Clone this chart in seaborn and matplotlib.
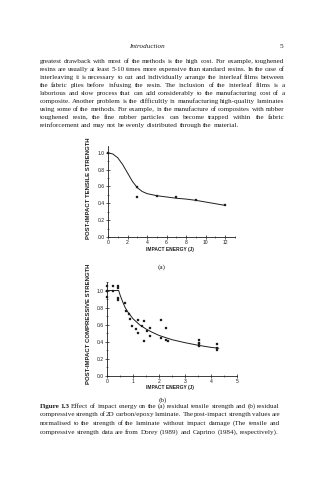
import math
import matplotlib
matplotlib.use("Agg")
import matplotlib.pyplot as plt
from matplotlib.ticker import MultipleLocator, FormatStrFormatter
from matplotlib.font_manager import fontManager, get_font, FontProperties
from matplotlib.backends import backend_agg
import seaborn as sns
import pandas as pd

# ---------------- data ----------------
# (a) residual tensile strength
tensile_energy = [0, 3, 3, 5, 7, 9, 12]
tensile_strength = [1.0, 0.595, 0.475, 0.49, 0.47, 0.44, 0.375]
tensile_fit_energy = [0, 0.5, 1.0, 1.5, 2.0, 2.5, 3.0, 3.5, 4.0, 5, 6, 7, 8, 9, 10, 11, 12]
tensile_fit_strength = [1.0, 0.985, 0.94, 0.86, 0.76, 0.66, 0.585, 0.54, 0.515,
                        0.49, 0.475, 0.46, 0.45, 0.435, 0.415, 0.395, 0.375]

# (b) residual compressive strength
comp_energy = [0, 0, 0, 0, 0.22, 0.22, 0.44, 0.44, 0.44, 0.44, 0.69, 0.72, 0.85, 0.87,
               0.97, 1.13, 1.2, 1.2, 1.33, 1.42, 1.42, 1.53, 1.66, 1.66, 2.08, 2.08,
               2.25, 2.25, 2.33, 3.54, 3.54, 3.54, 3.54, 4.24, 4.24, 4.24]
comp_strength = [0.93, 1.05, 1.0, 0.99, 0.99, 1.05, 1.05, 1.03, 0.91, 0.89, 0.86, 0.76,
                 0.73, 0.67, 0.58, 0.55, 0.65, 0.50, 0.58, 0.64, 0.41, 0.53, 0.56, 0.47,
                 0.65, 0.44, 0.56, 0.42, 0.41, 0.42, 0.39, 0.37, 0.35, 0.37, 0.33, 0.30]
comp_fit_energy = [0, 0.45, 0.5, 0.6, 0.7, 0.8, 0.9, 1.0, 1.25, 1.5, 1.75, 2.0, 2.5,
                   3.0, 3.5, 4.0, 4.3]
comp_fit_strength = [1.0, 1.0, 0.95, 0.87, 0.80, 0.75, 0.71, 0.67, 0.60, 0.55, 0.51,
                     0.475, 0.425, 0.39, 0.36, 0.335, 0.325]

x_label = "IMPACT ENERGY (J)"
y_label_a = "POST-IMPACT TENSILE STRENGTH"
y_label_b = "POST-IMPACT COMPRESSIVE STRENGTH"

header_title = "Introduction"
page_number = "5"

body_lines = [
    "greatest drawback with most of the methods is the high cost.  For example, toughened",
    "resins are usually at least 5-10 times more expensive than standard resins. In the case of",
    "interleaving it is necessary to cut and individually arrange the interleaf films between",
    "the fabric plies before infusing the resin.  The inclusion of the interleaf films is a",
    "laborious and slow process that can add considerably to the manufacturing cost of a",
    "composite.  Another problem is the difficultly in manufacturing high-quality laminates",
    "using some of the methods. For example, in the manufacture of composites with rubber",
    "toughened resin, the fine rubber particles can become trapped within the fabric",
    "reinforcement and may not be evenly distributed through the material.",
]
caption_lines = [
    "Figure 1.3 Effect of impact energy on the (a) residual tensile strength and (b) residual",
    "compressive strength of 2D carbon/epoxy laminate.  The post-impact strength values are",
    "normalised to the strength of the laminate without impact damage (The tensile and",
    "compressive strength data are from Dorey (1989) and Caprino (1984), respectively).",
]

# ---------------- figure ----------------
sns.set_style("ticks")
plt.rcParams["font.family"] = ["Liberation Sans", "DejaVu Sans"]
W, H = 331, 480
DPI = 100
fig = plt.figure(figsize=(W / DPI, H / DPI), dpi=DPI)
ink = "#1e1e1e"


def fx(px):
    return px / W


def fy(py):
    return 1 - py / H


def axes_box(left, right, top, bottom):
    return [fx(left), fy(bottom), (right - left) / W, (bottom - top) / H]


def style_axes(ax, xmaj, xmin, ylab, ylab_pos, xlab_pos):
    for s in ("top", "right"):
        ax.spines[s].set_visible(False)
    for s in ("left", "bottom"):
        ax.spines[s].set_linewidth(0.6)
        ax.spines[s].set_color(ink)
    ax.xaxis.set_major_locator(MultipleLocator(xmaj))
    ax.xaxis.set_minor_locator(MultipleLocator(xmin))
    ax.yaxis.set_major_locator(MultipleLocator(0.2))
    ax.yaxis.set_minor_locator(MultipleLocator(0.1))
    ax.tick_params(which="major", direction="inout", length=2.2, width=0.5,
                   labelsize=3.6, colors=ink, pad=1.0)
    ax.tick_params(which="minor", direction="inout", length=1.2, width=0.4, colors=ink)
    ax.yaxis.set_major_formatter(FormatStrFormatter("%.1f"))
    ax.set_xlabel(x_label, fontsize=3.5, fontweight="bold", color=ink)
    ax.set_ylabel(ylab, fontsize=4.3, fontweight="bold", color=ink)
    ax.xaxis.set_label_coords(fx(xlab_pos[0]), fy(xlab_pos[1]), transform=fig.transFigure)
    ax.yaxis.set_label_coords(fx(ylab_pos[0]), fy(ylab_pos[1]), transform=fig.transFigure)
    ax.xaxis.label.set_va("center")
    ax.yaxis.label.set_va("center")
    ax.set_facecolor("none")


# (a) tensile
ax_a = fig.add_axes(axes_box(108, 235, 146, 237))
df_a = pd.DataFrame({"energy": tensile_energy, "strength": tensile_strength})
fit_a = pd.DataFrame({"energy": tensile_fit_energy, "strength": tensile_fit_strength})
sns.lineplot(data=fit_a, x="energy", y="strength", ax=ax_a, color=ink, lw=0.7,
             sort=False, estimator=None)
sns.scatterplot(data=df_a, x="energy", y="strength", ax=ax_a, marker="s", s=4,
                color=ink, edgecolor=ink, linewidth=0.2, clip_on=False, zorder=3)
ax_a.set_xlim(0, 13)
ax_a.set_ylim(0, 1.08)
style_axes(ax_a, 2, 1, y_label_a, (88, 188), (170, 249))

# (b) compressive
ax_b = fig.add_axes(axes_box(107, 237, 282, 376))
df_b = pd.DataFrame({"energy": comp_energy, "strength": comp_strength})
fit_b = pd.DataFrame({"energy": comp_fit_energy, "strength": comp_fit_strength})
sns.lineplot(data=fit_b, x="energy", y="strength", ax=ax_b, color=ink, lw=0.7,
             sort=False, estimator=None)
sns.scatterplot(data=df_b, x="energy", y="strength", ax=ax_b, marker="s", s=4,
                color=ink, edgecolor=ink, linewidth=0.2, clip_on=False, zorder=3)
ax_b.set_xlim(0, 5)
ax_b.set_ylim(0, 1.1)
style_axes(ax_b, 1, 0.5, y_label_b, (89, 324), (170, 388))

serif = ["Liberation Serif", "DejaVu Serif"]
fig.text(fx(162), fy(267), "(a)", fontsize=5.2, family=serif, color=ink,
         ha="center", va="center")
fig.text(fx(163), fy(400), "(b)", fontsize=5.2, family=serif, color=ink,
         ha="center", va="center")

# ---------------- page text ----------------
renderer = fig.canvas.get_renderer()
text_size = 5.15
baseline_shift = 1.7


def hinting_flag():
    try:
        return backend_agg.get_hinting_flag()
    except Exception:
        return 0


def snapped_top(word, row, weight="normal", style="normal"):
    """Pixel y (from the top) that puts the word's baseline exactly on `row`,
    so that words rendered one by one share a common baseline."""
    try:
        fp = FontProperties(family=serif, size=text_size, weight=weight, style=style)
        font = get_font(fontManager._find_fonts_by_props(fp))
        font.clear()
        font.set_size(text_size, DPI)
        font.set_text(word, 0.0, flags=hinting_flag())
        _, h26 = font.get_width_height()
        d26 = font.get_descent()
        y_max = (h26 - d26) / 64.0
        k = row + h26 // 64 - math.floor(y_max)
        return k - d26 / 64.0
    except Exception:
        return float(row)


def width_of(t):
    return t.get_window_extent(renderer).width


def set_line(line, y, x0, x1, justify, bold_words=0):
    words = line.split()
    row = int(round(y + baseline_shift))
    texts = []
    for i, w in enumerate(words):
        weight = "bold" if i < bold_words else "normal"
        t = fig.text(0, fy(snapped_top(w, row, weight)), w, fontsize=text_size,
                     family=serif, color=ink, ha="left", va="baseline",
                     fontweight=weight)
        texts.append(t)
    widths = [width_of(t) for t in texts]
    probe = fig.text(0, 0, "n n", fontsize=text_size, family=serif)
    probe2 = fig.text(0, 0, "nn", fontsize=text_size, family=serif)
    space = width_of(probe) - width_of(probe2)
    probe.remove()
    probe2.remove()
    if justify and len(words) > 1:
        gap = (x1 - x0 - sum(widths)) / (len(words) - 1)
    else:
        gap = space
    x = x0
    for t, w in zip(texts, widths):
        t.set_x(fx(x))
        x += w + gap


header_row = int(round(46.7 + baseline_shift))
fig.text(fx(147), fy(snapped_top(header_title, header_row, style="italic")),
         header_title, fontsize=text_size, family=serif, style="italic", color=ink,
         ha="center", va="baseline")
fig.text(fx(281), fy(snapped_top(page_number, header_row)), page_number,
         fontsize=text_size, family=serif, color=ink, ha="center", va="baseline")

for i, line in enumerate(body_lines):
    set_line(line, 61.7 + 8.0 * i, 39.5, 284.5, i < len(body_lines) - 1)

caption_y = [406, 414.8, 423.5, 432.3]
for i, line in enumerate(caption_lines):
    set_line(line, caption_y[i], 39.5, 280, i < len(caption_lines) - 1,
             bold_words=2 if i == 0 else 0)

fig.savefig("out.png", dpi=DPI, facecolor="white")
